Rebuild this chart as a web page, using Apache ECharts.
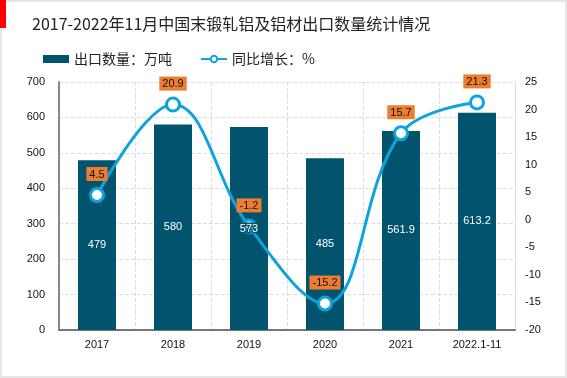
<!DOCTYPE html>
<html><head><meta charset="utf-8">
<script src="https://cdn.jsdelivr.net/npm/echarts@6/dist/echarts.min.js"></script>
<style>html,body{margin:0;padding:0;background:#fff}#c{width:567px;height:378px}</style>
</head><body><div id="c"></div>
<script>
const categories = ['2017','2018','2019','2020','2021','2022.1-11'];
const exportVolume = [479, 580, 573, 485, 561.9, 613.2];
const yoyGrowth = [4.5, 20.9, -1.2, -15.2, 15.7, 21.3];
const leftTicks = [0, 700, 100];
const rightTicks = [-20, 25, 5];

const chart = echarts.init(document.getElementById('c'), null, {renderer:'canvas'});
const ff = '"Liberation Sans", Arial, "Noto Sans CJK SC", sans-serif';
chart.setOption({
  animation:false,
  textStyle:{fontFamily:ff},
  title:{text:'2017-2022年11月中国末锻轧铝及铝材出口数量统计情况', left:27, top:11,
    textStyle:{fontSize:16, fontWeight:'normal', color:'#222', fontFamily:'"Noto Sans CJK SC", sans-serif'}},
  graphic:[
    {type:'rect', shape:{x:1,y:1,width:565,height:376}, style:{fill:'none', stroke:'#e6e6e6', lineWidth:2}, silent:true},
    {type:'rect', shape:{x:0,y:0,width:6,height:28}, style:{fill:'#ff0000'}, silent:true}
  ],
  legend:{left:38, top:47, itemGap:28, itemWidth:26, itemHeight:8,
    textStyle:{fontSize:14, color:'#222', fontFamily:'"Noto Sans CJK SC", sans-serif'},
    data:[{name:'出口数量：万吨', icon:'rect'}, {name:'同比增长：%'}]},
  grid:{left:59, right:52, top:82, bottom:48},
  xAxis:{type:'category', data:categories,
    axisLine:{lineStyle:{color:'#777', width:2}}, axisTick:{show:false},
    axisLabel:{color:'#111', fontSize:11, margin:9},
    splitLine:{show:true, lineStyle:{type:'dashed', color:'#ddd'}}},
  yAxis:[
    {type:'value', min:leftTicks[0], max:leftTicks[1], interval:leftTicks[2],
      axisLine:{show:true, lineStyle:{color:'#888', width:2}}, axisTick:{show:false},
      axisLabel:{color:'#111', fontSize:11, margin:14},
      splitLine:{lineStyle:{type:'dashed', color:'#ddd'}}},
    {type:'value', min:rightTicks[0], max:rightTicks[1], interval:rightTicks[2],
      axisLine:{show:true, lineStyle:{color:'#ddd', width:1}}, axisTick:{show:false},
      axisLabel:{color:'#111', fontSize:11, margin:10},
      splitLine:{show:false}}
  ],
  series:[
    {name:'出口数量：万吨', type:'bar', data:exportVolume, barWidth:38,
      itemStyle:{color:'#02536e'}},
    {name:'同比增长：%', type:'line', yAxisIndex:1, data:yoyGrowth, smooth:0.4,
      lineStyle:{color:'#0ea3db', width:3},
      symbol:'circle', symbolSize:13,
      itemStyle:{color:'#fff', borderColor:'#0ea3db', borderWidth:3},
      label:{show:true, position:'top', distance:6, color:'#111', fontSize:11,
        backgroundColor:'#ed7d31', padding:[2,3,1,3]}},
    {name:'barLabels', type:'bar', data:exportVolume, barWidth:38, barGap:'-100%', z:5,
      itemStyle:{color:'rgba(0,0,0,0)'}, silent:true,
      label:{show:true, position:'inside', color:'#fff', fontSize:11,
        textBorderColor:'#02536e', textBorderWidth:3}}
  ]
});
</script></body></html>
